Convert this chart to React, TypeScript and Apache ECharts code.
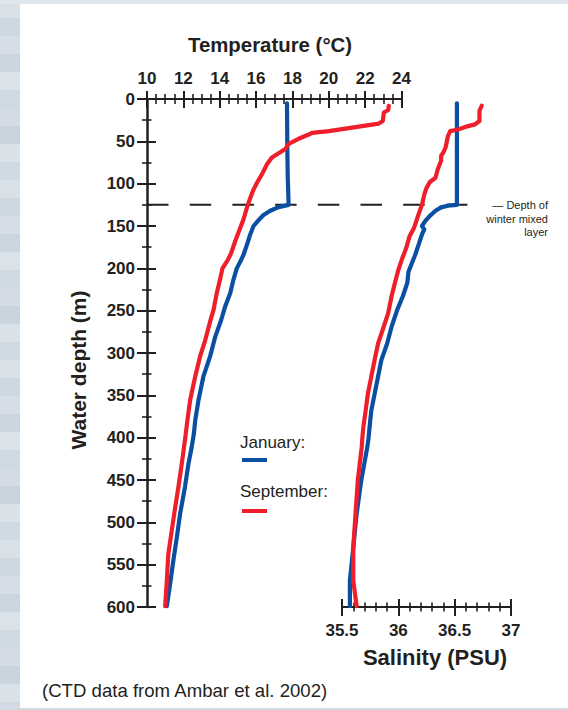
import React, { useEffect, useRef } from "react";
import * as echarts from "echarts";

// ---- Data (depth in m, temperature in °C, salinity in PSU) ----
const janTempDepth = [5, 30, 60, 90, 125, 127.7, 132, 137, 143, 150, 160, 172, 184, 192, 200, 213, 229, 245, 261, 281, 304, 328, 356, 380, 395, 411, 431, 458, 490, 518, 545, 573, 599];
const janTemp = [17.7, 17.71, 17.72, 17.74, 17.79, 17.24, 16.78, 16.41, 16.14, 15.86, 15.68, 15.5, 15.31, 15.13, 14.94, 14.76, 14.58, 14.3, 14.08, 13.75, 13.47, 13.1, 12.83, 12.65, 12.58, 12.46, 12.28, 12.09, 11.82, 11.64, 11.45, 11.27, 11.09];

const sepTempDepth = [8, 13, 16, 26, 29, 32, 35, 38, 40, 42, 47, 53, 59, 64, 69, 77, 89, 99, 107, 117, 128, 142, 152, 168, 182, 190, 200, 213, 229, 249, 263, 285, 304, 328, 356, 380, 401, 431, 458, 484, 510, 538, 569, 599];
const sepTemp = [23.3, 23.27, 23.03, 22.97, 22.75, 21.83, 20.92, 20.0, 19.08, 18.9, 18.34, 17.79, 17.61, 17.24, 16.87, 16.6, 16.32, 16.05, 15.86, 15.68, 15.5, 15.31, 15.13, 14.85, 14.63, 14.45, 14.15, 14.02, 13.84, 13.66, 13.47, 13.2, 12.92, 12.65, 12.37, 12.22, 12.1, 11.91, 11.73, 11.54, 11.36, 11.17, 11.09, 11.0];

const janSalDepth = [5, 60, 125, 126, 128, 132, 138, 144, 150, 154, 160, 172, 184, 194, 204, 217, 233, 249, 269, 289, 308, 328, 348, 368, 387, 401, 411, 451, 490, 530, 569, 599];
const janSal = [36.52, 36.52, 36.52, 36.44, 36.38, 36.33, 36.28, 36.24, 36.21, 36.23, 36.21, 36.18, 36.15, 36.12, 36.09, 36.08, 36.04, 35.99, 35.94, 35.9, 35.85, 35.82, 35.79, 35.76, 35.745, 35.735, 35.725, 35.67, 35.63, 35.6, 35.57, 35.57];

const sepSalDepth = [8, 14, 26, 30, 32, 36, 38, 44, 57, 63, 67, 73, 83, 93, 98, 105, 113, 125, 136, 152, 162, 176, 190, 202, 217, 233, 253, 269, 289, 308, 328, 348, 368, 387, 401, 411, 451, 490, 530, 569, 599];
const sepSal = [36.74, 36.72, 36.72, 36.68, 36.62, 36.53, 36.46, 36.44, 36.42, 36.4, 36.38, 36.38, 36.35, 36.33, 36.28, 36.25, 36.23, 36.21, 36.18, 36.14, 36.1, 36.07, 36.03, 36.0, 35.97, 35.94, 35.91, 35.87, 35.82, 35.79, 35.76, 35.73, 35.71, 35.69, 35.68, 35.675, 35.64, 35.62, 35.6, 35.6, 35.63];

const mixedLayerDepth = 125;

const tempTitle = "Temperature (°C)";
const salTitle = "Salinity (PSU)";
const depthTitle = "Water depth (m)";
const legendLabels = ["January:", "September:"];
const mixedLayerLabel = ["— Depth of", "winter mixed", "layer"];
const sourceNote = "(CTD data from Ambar et al. 2002)";

const tileColors = ["#d8e0e8", "#cdd8e1", "#d5dee6", "#cad5df", "#dbe3ea", "#cfd9e2", "#d3dce5", "#c9d4de", "#d9e1e9", "#d0dae3"];

const BLUE = "#0b4fa3";
const RED = "#ee1f2a";
const INK = "#231f20";
const FONT = "'Liberation Sans', Arial, Helvetica, sans-serif";

function zip(xs: number[], ds: number[]) {
  return xs.map((v, i) => [v, ds[i]]);
}

function buildBg() {
  const h = 18;
  const stops: string[] = [];
  for (let i = 0; i < 40; i++) {
    const c = tileColors[i % tileColors.length];
    stops.push(`${c} ${i * h}px`, `${c} ${(i + 1) * h}px`);
  }
  return `linear-gradient(to bottom, ${stops.join(", ")})`;
}

export default function App() {
  const ref = useRef<HTMLDivElement>(null);

  useEffect(() => {
    if (!ref.current) return;
    const chart = echarts.init(ref.current, undefined, { renderer: "svg" });

    const tickLine = { color: INK, width: 2 };
    const minorLine = { color: INK, width: 1.6 };
    const labelStyle = { fontSize: 17, fontWeight: "bold" as const, color: INK, fontFamily: FONT };

    const gridTop = 99;
    const gridH = 508;

    const option: any = {
      animation: false,
      backgroundColor: "transparent",
      grid: [
        { left: 147, top: gridTop, width: 254.5, height: gridH, outerBoundsMode: "none", containLabel: false },
        { left: 342, top: gridTop, width: 169, height: gridH, outerBoundsMode: "none", containLabel: false },
        { left: 147, top: gridTop, width: 320.5, height: gridH, outerBoundsMode: "none", containLabel: false },
      ],
      xAxis: [
        {
          type: "value", gridIndex: 0, position: "top", min: 10, max: 24, interval: 2,
          axisLine: { show: true, onZero: false, lineStyle: { color: INK, width: 2.2 } },
          axisTick: { show: true, inside: false, length: 8, lineStyle: tickLine },
          minorTick: { show: true, splitNumber: 4, length: 5, lineStyle: minorLine },
          axisLabel: { ...labelStyle, margin: 12 },
          splitLine: { show: false }, minorSplitLine: { show: false },
        },
        {
          type: "value", gridIndex: 0, position: "top", min: 10, max: 24, interval: 2,
          axisLine: { show: false, onZero: false },
          axisTick: { show: true, inside: true, length: 9, lineStyle: tickLine },
          minorTick: { show: true, splitNumber: 4, length: 5, lineStyle: minorLine },
          axisLabel: { show: false },
          splitLine: { show: false }, minorSplitLine: { show: false },
        },
        {
          type: "value", gridIndex: 1, position: "bottom", min: 35.5, max: 37, interval: 0.5,
          axisLine: { show: true, onZero: false, lineStyle: { color: INK, width: 2.2 } },
          axisTick: { show: true, inside: false, length: 9, lineStyle: tickLine },
          minorTick: { show: true, splitNumber: 5, length: 4.5, lineStyle: minorLine },
          axisLabel: { ...labelStyle, margin: 15 },
          splitLine: { show: false }, minorSplitLine: { show: false },
        },
        {
          type: "value", gridIndex: 1, position: "bottom", min: 35.5, max: 37, interval: 0.5,
          axisLine: { show: false, onZero: false },
          axisTick: { show: true, inside: true, length: 8, lineStyle: tickLine },
          minorTick: { show: true, splitNumber: 5, length: 4.5, lineStyle: minorLine },
          axisLabel: { show: false },
          splitLine: { show: false }, minorSplitLine: { show: false },
        },
        { type: "value", gridIndex: 2, min: 0, max: 1, show: false },
      ],
      yAxis: [
        {
          type: "value", gridIndex: 0, position: "left", inverse: true, min: 0, max: 600, interval: 50,
          axisLine: { show: true, onZero: false, lineStyle: { color: INK, width: 2.5 } },
          axisTick: { show: true, inside: false, length: 10, lineStyle: tickLine },
          minorTick: { show: true, splitNumber: 2, length: 5, lineStyle: minorLine },
          axisLabel: { ...labelStyle, margin: 12 },
          splitLine: { show: false }, minorSplitLine: { show: false },
        },
        {
          type: "value", gridIndex: 0, position: "left", inverse: true, min: 0, max: 600, interval: 50,
          axisLine: { show: false, onZero: false },
          axisTick: { show: true, inside: true, length: 9, lineStyle: tickLine },
          minorTick: { show: true, splitNumber: 2, length: 4.5, lineStyle: minorLine },
          axisLabel: { show: false },
          splitLine: { show: false }, minorSplitLine: { show: false },
        },
        { type: "value", gridIndex: 1, inverse: true, min: 0, max: 600, show: false },
        { type: "value", gridIndex: 2, inverse: true, min: 0, max: 600, show: false },
      ],
      series: [
        {
          type: "line", xAxisIndex: 4, yAxisIndex: 3, z: 1,
          data: [[0, mixedLayerDepth], [1, mixedLayerDepth]],
          symbol: "none", silent: true,
          lineStyle: { color: INK, width: 2, type: [21.5, 21.2] },
        },
        {
          type: "line", name: "January T", xAxisIndex: 0, yAxisIndex: 0, z: 3,
          data: zip(janTemp, janTempDepth), symbol: "none",
          lineStyle: { color: BLUE, width: 4.2, cap: "round", join: "round" },
        },
        {
          type: "line", name: "January S", xAxisIndex: 2, yAxisIndex: 2, z: 3,
          data: zip(janSal, janSalDepth), symbol: "none",
          lineStyle: { color: BLUE, width: 4.2, cap: "round", join: "round" },
        },
        {
          type: "line", name: "September T", xAxisIndex: 0, yAxisIndex: 0, z: 4,
          data: zip(sepTemp, sepTempDepth), symbol: "none",
          lineStyle: { color: RED, width: 4.2, cap: "round", join: "round" },
        },
        {
          type: "line", name: "September S", xAxisIndex: 2, yAxisIndex: 2, z: 4,
          data: zip(sepSal, sepSalDepth), symbol: "none",
          lineStyle: { color: RED, width: 4.2, cap: "round", join: "round" },
        },
      ],
      graphic: [
        {
          type: "text", x: 270, y: 45,
          style: { text: tempTitle, font: `bold 20.4px ${FONT}`, fill: INK, align: "center", verticalAlign: "middle" },
        },
        {
          type: "text", x: 78, y: 370, rotation: Math.PI / 2,
          style: { text: depthTitle, font: `bold 21px ${FONT}`, fill: INK, align: "center", verticalAlign: "middle" },
        },
        {
          type: "text", x: 435, y: 657,
          style: { text: salTitle, font: `bold 22px ${FONT}`, fill: INK, align: "center", verticalAlign: "middle" },
        },
        {
          type: "text", x: 240, y: 442,
          style: { text: legendLabels[0], font: `17px ${FONT}`, fill: INK, verticalAlign: "middle" },
        },
        {
          type: "line", shape: { x1: 242, y1: 460, x2: 267, y2: 460 },
          style: { stroke: BLUE, lineWidth: 4 },
        },
        {
          type: "text", x: 240, y: 491,
          style: { text: legendLabels[1], font: `17px ${FONT}`, fill: INK, verticalAlign: "middle" },
        },
        {
          type: "line", shape: { x1: 242, y1: 511, x2: 267, y2: 511 },
          style: { stroke: RED, lineWidth: 4 },
        },
        ...mixedLayerLabel.map((t, i) => ({
          type: "text", x: 548, y: 205 + i * 13.5,
          style: { text: t, font: `11px ${FONT}`, fill: INK, align: "right", verticalAlign: "middle" },
        })),
        {
          type: "text", x: 42, y: 690,
          style: { text: sourceNote, font: `18.6px ${FONT}`, fill: INK, verticalAlign: "middle" },
        },
      ],
    };

    chart.setOption(option);
    return () => chart.dispose();
  }, []);

  return (
    <div style={{ position: "absolute", left: 0, top: 0, width: 568, height: 710, background: buildBg(), overflow: "hidden" }}>
      <div style={{ position: "absolute", left: 0, top: 0, width: 568, height: 4, background: "#dfe6ed" }} />
      <div style={{ position: "absolute", left: 20, top: 4, width: 548, height: 704, background: "#ffffff" }} />
      <div ref={ref} style={{ position: "absolute", left: 0, top: 0, width: 568, height: 710 }} />
    </div>
  );
}
